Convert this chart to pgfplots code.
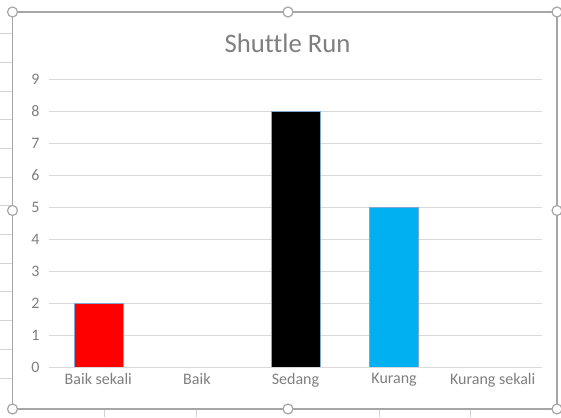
\documentclass[border=0pt]{standalone}
\usepackage{pgfplots}
\pgfplotsset{compat=1.18}
\usepackage{fontspec}
\setmainfont[Ligatures=NoCommon]{Carlito}
\definecolor{gridc}{HTML}{D9D9D9}
\definecolor{txt}{HTML}{7F7F7F}
\definecolor{framec}{HTML}{A6A6A6}
\definecolor{sheet}{HTML}{D4D4D4}
\definecolor{barline}{HTML}{7FA7D0}
\definecolor{cyanbar}{HTML}{00B0F0}
\begin{document}
\begin{tikzpicture}[x=1pt,y=1pt]
\path[use as bounding box,fill=white] (0,0) rectangle (561,417);
% spreadsheet cell lines outside the chart
\foreach \yy in {39,67.7,96.4,125.1,153.8,182.5,211.2,239.9,268.6,297.3,326,354.7,383.4}
  \draw[sheet,line width=0.8pt] (0,\yy) -- (12,\yy);
\foreach \xx in {104,196,379,470}
  \draw[sheet,line width=0.8pt] (\xx,0) -- (\xx,8);
\begin{axis}[
  at={(49pt,50pt)}, anchor=south west,
  scale only axis, width=493pt, height=288pt,
  xmin=-0.5, xmax=4.5, ymin=0, ymax=9,
  ybar, bar width=49pt,
  xtick={0,1,2,3,4},
  xticklabels={Baik sekali,Baik,Sedang,Kurang,Kurang sekali},
  ytick={0,1,...,9},
  major tick length=0pt,
  ymajorgrids, grid style={gridc,line width=0.9pt},
  axis line style={draw=none},
  axis x line*=bottom,
  axis y line*=left,
  tick label style={font=\fontsize{16}{18}\selectfont, text=txt},
  xticklabel style={yshift=-3pt},
  yticklabel style={xshift=-6pt},
  /pgf/number format/assume math mode=true,
  clip=false,
]
\addplot[fill=red, draw=barline, line width=0.6pt, bar shift=0pt] coordinates {(0,2)};
\addplot[draw=none, fill=none, bar shift=0pt, forget plot] coordinates {(1,0) (4,0)};
\addplot[fill=black, draw=barline, line width=0.6pt, bar shift=0pt] coordinates {(2,8)};
\addplot[fill=cyanbar, draw=barline, line width=0.6pt, bar shift=0pt] coordinates {(3,5)};
\draw[gridc,line width=0.9pt] (axis cs:-0.5,0) -- (axis cs:4.5,0);
\end{axis}
\node[text=txt, font=\fontsize{26.7}{30}\selectfont] at (287.5,374) {Shuttle Run};
% chart frame with selection handles
\draw[framec,line width=1.6pt] (12.5,8) rectangle (557,405);
\foreach \p in {(12.5,8),(12.5,206.5),(12.5,405),(288,405),(288,8),(557,405),(557,206.5),(557,8)}
  \draw[framec,line width=1.2pt,fill=white] \p circle (5);
\end{tikzpicture}
\end{document}
